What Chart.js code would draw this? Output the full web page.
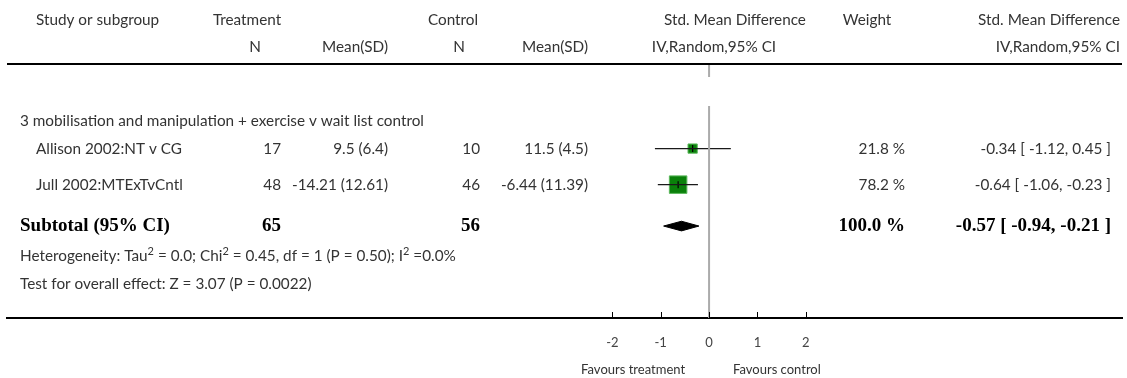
<!DOCTYPE html>
<html>
<head>
<meta charset="utf-8">
<script src="https://cdn.jsdelivr.net/npm/chart.js@4.4.1/dist/chart.umd.min.js"></script>
<style>
  html, body { margin: 0; padding: 0; background: #fff; }
  #wrap { width: 1127px; height: 378px; }
</style>
</head>
<body>
<div id="wrap"><canvas id="forest" width="1127" height="378"></canvas></div>
<script>
// ---- study data ----
const groupTitle = '3 mobilisation and manipulation + exercise v wait list control';
const studies = ['Allison 2002:NT v CG', 'Jull 2002:MTExTvCntl'];
const treatN = [17, 48];
const treatMeanSD = ['9.5 (6.4)', '-14.21 (12.61)'];
const controlN = [10, 46];
const controlMeanSD = ['11.5 (4.5)', '-6.44 (11.39)'];
const smd = [-0.34, -0.64];
const ciLow = [-1.12, -1.06];
const ciHigh = [0.45, -0.23];
const weights = [21.8, 78.2];

// ---- pooled (subtotal) result ----
const subtotalN = [65, 56];
const subtotalSMD = [-0.57];
const subtotalCI = [-0.94, -0.21];
const subtotalWeight = [100.0];

const xTicks = [-2, -1, 0, 1, 2];

// ---- layout (row positions in y-axis units, column anchors in px) ----
const FONT = 'Lato, "Open Sans", sans-serif';
const SERIF = '"Liberation Serif", "DejaVu Serif", serif';
const ROW = { heading: 2.25, studies: [3.33, 4.75], subtotal: 6.38, het: 7.56, test: 8.66 };
const ZERO_GAP = [0.51, 1.65];
const DIAMOND_HALF = 0.19;
const COL = {
  groupX: 20, studyX: 36,
  treatN: 281, treatMean: 388, ctrlN: 480, ctrlMean: 588,
  weight: 905, ci: 1111
};
const TEXT = '#333';
const SIZE = 15.3;

const fmt = v => v.toFixed(2);
const ciText = (e, lo, hi) => `${fmt(e)} [ ${fmt(lo)}, ${fmt(hi)} ]`;

// ---- datasets ----
const datasets = [];

// line of no effect (with a break under the header block)
datasets.push({
  type: 'line', order: 0,
  data: [{ x: 0, y: 0 }, { x: 0, y: ZERO_GAP[0] }, { x: 0, y: null }, { x: 0, y: ZERO_GAP[1] }, { x: 0, y: 10 }],
  borderColor: '#ababab', borderWidth: 2, pointRadius: 0, spanGaps: false
});

// confidence interval whiskers
studies.forEach((s, i) => {
  datasets.push({
    type: 'line', order: 1,
    data: [{ x: ciLow[i], y: ROW.studies[i] }, { x: ciHigh[i], y: ROW.studies[i] }],
    borderColor: '#1a1a1a', borderWidth: 1.4, pointRadius: 0
  });
});

// point estimate tick
datasets.push({
  type: 'scatter', order: 1,
  data: studies.map((s, i) => ({ x: smd[i], y: ROW.studies[i] })),
  pointStyle: 'line', rotation: 90, pointRadius: 3.5,
  borderColor: '#000', borderWidth: 1.2, backgroundColor: '#000'
});

// weight boxes
datasets.push({
  type: 'scatter', order: 2,
  data: studies.map((s, i) => ({ x: smd[i], y: ROW.studies[i] })),
  pointStyle: 'rect',
  pointRadius: ctx => Math.sqrt(weights[ctx.dataIndex]) * 1.4,
  backgroundColor: '#0a800a', borderColor: '#5cb85c', borderWidth: 1
});

// pooled diamond: upper half filled down to lower half
datasets.push({
  type: 'line', order: 1, fill: '+1',
  data: [{ x: subtotalCI[0], y: ROW.subtotal }, { x: subtotalSMD[0], y: ROW.subtotal - DIAMOND_HALF }, { x: subtotalCI[1], y: ROW.subtotal }],
  borderColor: '#000', borderWidth: 1, backgroundColor: '#000', pointRadius: 0, tension: 0
});
datasets.push({
  type: 'line', order: 1, fill: false,
  data: [{ x: subtotalCI[0], y: ROW.subtotal }, { x: subtotalSMD[0], y: ROW.subtotal + DIAMOND_HALF }, { x: subtotalCI[1], y: ROW.subtotal }],
  borderColor: '#000', borderWidth: 1, pointRadius: 0, tension: 0
});

// ---- table text, rules and axis decorations ----
function runs(ctx, parts, x, y, size) {
  let cx = x;
  for (const p of parts) {
    ctx.font = `${p.sup ? Math.round(size * 0.72) : size}px ${FONT}`;
    ctx.fillText(p.t, cx, p.sup ? y - size * 0.33 : y);
    cx += ctx.measureText(p.t).width;
  }
}

const tablePlugin = {
  id: 'forestTable',
  afterDraw(chart) {
    const { ctx, chartArea, scales } = chart;
    const xs = scales.x, ys = scales.y;
    const yOf = v => ys.getPixelForValue(v);
    const zeroPx = xs.getPixelForValue(0);
    ctx.save();

    // header rule
    ctx.fillStyle = '#000';
    ctx.fillRect(chartArea.left, chartArea.top - 1, chartArea.right - chartArea.left, 2);

    // upward tick marks on the axis
    ctx.strokeStyle = '#000';
    ctx.lineWidth = 1;
    xs.ticks.forEach(t => {
      const px = Math.round(xs.getPixelForValue(t.value)) + 0.5;
      ctx.beginPath();
      ctx.moveTo(px, chartArea.bottom - 6);
      ctx.lineTo(px, chartArea.bottom);
      ctx.stroke();
    });

    ctx.fillStyle = TEXT;
    ctx.textBaseline = 'middle';
    const sz = SIZE;
    ctx.font = `${sz}px ${FONT}`;

    // column headers
    const h1 = chartArea.top - 44, h2 = chartArea.top - 17;
    ctx.textAlign = 'left';
    ctx.fillText('Study or subgroup', COL.studyX, h1);
    ctx.textAlign = 'center';
    ctx.fillText('Treatment', 247, h1);
    ctx.fillText('Control', 453, h1);
    ctx.fillText('Std. Mean Difference', 735, h1);
    ctx.fillText('Weight', 867, h1);
    ctx.fillText('N', 255, h2);
    ctx.fillText('N', 459, h2);
    ctx.fillText('IV,Random,95% CI', 714, h2);
    ctx.textAlign = 'right';
    ctx.fillText('Std. Mean Difference', 1120, h1);
    ctx.fillText('Mean(SD)', COL.treatMean, h2);
    ctx.fillText('Mean(SD)', COL.ctrlMean, h2);
    ctx.fillText('IV,Random,95% CI', 1120, h2);

    // subgroup heading
    ctx.textAlign = 'left';
    ctx.fillText(groupTitle, COL.groupX, yOf(ROW.heading));

    // study rows
    studies.forEach((s, i) => {
      const y = yOf(ROW.studies[i]);
      ctx.textAlign = 'left';
      ctx.fillText(s, COL.studyX, y);
      ctx.textAlign = 'right';
      ctx.fillText(String(treatN[i]), COL.treatN, y);
      ctx.fillText(treatMeanSD[i], COL.treatMean, y);
      ctx.fillText(String(controlN[i]), COL.ctrlN, y);
      ctx.fillText(controlMeanSD[i], COL.ctrlMean, y);
      ctx.fillText(`${weights[i].toFixed(1)} %`, COL.weight, y);
      ctx.fillText(ciText(smd[i], ciLow[i], ciHigh[i]), COL.ci, y);
    });

    // subtotal row
    const ys0 = yOf(ROW.subtotal);
    ctx.fillStyle = '#000';
    ctx.font = `bold 19px ${SERIF}`;
    ctx.textAlign = 'left';
    ctx.fillText('Subtotal (95% CI)', COL.groupX, ys0);
    ctx.textAlign = 'right';
    ctx.fillText(String(subtotalN[0]), COL.treatN, ys0);
    ctx.fillText(String(subtotalN[1]), COL.ctrlN, ys0);
    ctx.fillText(`${subtotalWeight[0].toFixed(1)} %`, COL.weight, ys0);
    ctx.fillText(ciText(subtotalSMD[0], subtotalCI[0], subtotalCI[1]), COL.ci, ys0);

    // heterogeneity and overall effect
    ctx.fillStyle = TEXT;
    ctx.textAlign = 'left';
    runs(ctx, [
      { t: 'Heterogeneity: Tau' }, { t: '2', sup: true }, { t: ' = 0.0; Chi' }, { t: '2', sup: true },
      { t: ' = 0.45, df = 1 (P = 0.50); I' }, { t: '2', sup: true }, { t: ' =0.0%' }
    ], COL.groupX, yOf(ROW.het), sz);
    ctx.font = `${sz}px ${FONT}`;
    ctx.fillText('Test for overall effect: Z = 3.07 (P = 0.0022)', COL.groupX, yOf(ROW.test));

    // direction labels under the axis
    ctx.font = `13px ${FONT}`;
    ctx.textAlign = 'right';
    ctx.fillText('Favours treatment', zeroPx - 24, 370);
    ctx.textAlign = 'left';
    ctx.fillText('Favours control', zeroPx + 24, 370);

    ctx.restore();
  }
};

new Chart(document.getElementById('forest'), {
  type: 'scatter',
  data: { datasets },
  options: {
    responsive: false,
    animation: false,
    layout: { autoPadding: false, padding: { left: 7, right: 5, top: 64, bottom: 0 } },
    plugins: { legend: { display: false }, tooltip: { enabled: false } },
    scales: {
      x: {
        type: 'linear', min: -14.52, max: 8.54,
        afterBuildTicks: axis => { axis.ticks = xTicks.map(v => ({ value: v })); },
        afterFit: axis => { axis.height = 60; axis.paddingLeft = 0; axis.paddingRight = 0; },
        grid: { display: false, drawTicks: false },
        border: { display: true, color: '#000', width: 2 },
        ticks: {
          autoSkip: false, maxRotation: 0, padding: 17,
          color: '#444', font: { family: FONT, size: 13 },
          callback: v => String(v)
        }
      },
      y: { type: 'linear', reverse: true, min: 0, max: 10, display: false }
    }
  },
  plugins: [tablePlugin]
});
</script>
</body>
</html>
